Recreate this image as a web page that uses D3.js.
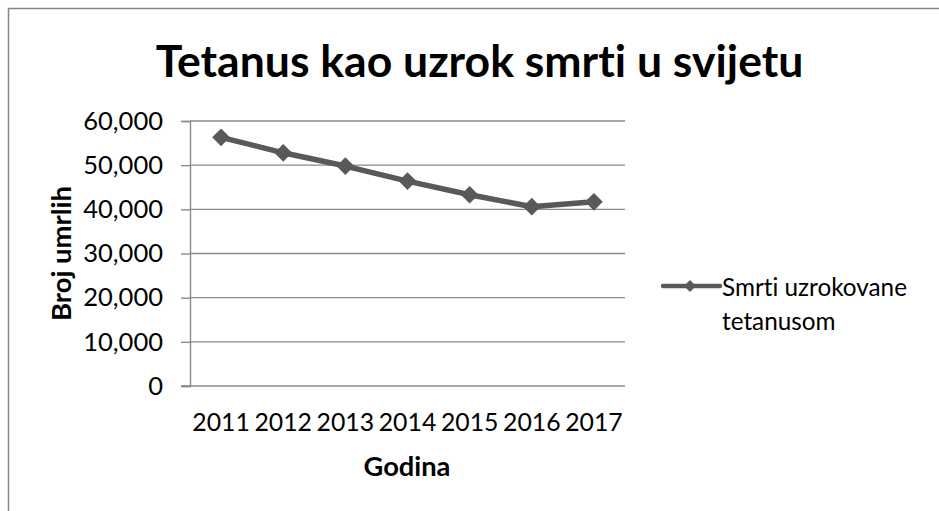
<!DOCTYPE html>
<html>
<head>
<meta charset="utf-8">
<script src="https://cdn.jsdelivr.net/npm/d3@7"></script>
<style>
  html, body { margin: 0; padding: 0; background: #fff; }
  svg { display: block; }
  text { font-family: Lato, "Open Sans", sans-serif; fill: #000; font-variant-ligatures: none; }
</style>
</head>
<body>
<svg id="chart" width="939" height="511"></svg>
<script>
const titleText = "Tetanus kao uzrok smrti u svijetu";
const years = ["2011", "2012", "2013", "2014", "2015", "2016", "2017"];
const deaths = [56300, 52800, 49800, 46400, 43300, 40600, 41700];
const yTicks = [0, 10000, 20000, 30000, 40000, 50000, 60000];
const seriesName = ["Smrti uzrokovane", "tetanusom"];
const xTitle = "Godina";
const yTitle = "Broj umrlih";

const W = 939, H = 511;
const plot = { left: 190, right: 625, top: 121, bottom: 386 };
const lineColor = "#595959";
const gridColor = "#8a8a8a";

const svg = d3.select("#chart");

svg.append("rect")
  .attr("x", 8.5).attr("y", 8.5)
  .attr("width", W + 20).attr("height", H + 20)
  .attr("fill", "#fff").attr("stroke", "#868686").attr("stroke-width", 1.5);

function fitWidth(sel, target) {
  const fs = parseFloat(sel.attr("font-size"));
  const w = sel.node().getComputedTextLength();
  sel.attr("font-size", fs * target / w);
}

const t = svg.append("text")
  .attr("x", 479.5).attr("y", 76.5)
  .attr("text-anchor", "middle")
  .attr("font-size", 44).attr("font-weight", "bold")
  .text(titleText);
fitWidth(t, 648);

const x = d3.scaleBand().domain(years).range([plot.left, plot.right]).padding(0);
const y = d3.scaleLinear().domain([0, 60000]).range([plot.bottom, plot.top]);

svg.append("g")
  .selectAll("line")
  .data(yTicks.filter(d => d > 0))
  .join("line")
  .attr("x1", plot.left).attr("x2", plot.right)
  .attr("y1", d => y(d)).attr("y2", d => y(d))
  .attr("stroke", gridColor).attr("stroke-width", 1.4);

const yAxis = svg.append("g")
  .attr("transform", `translate(${plot.left},0)`)
  .call(d3.axisLeft(y).tickValues(yTicks).tickSize(9).tickPadding(18)
    .tickFormat(d3.format(",")));
yAxis.select(".domain").attr("stroke", gridColor).attr("stroke-width", 1.4);
yAxis.selectAll(".tick line").attr("stroke", gridColor).attr("stroke-width", 1.4);
yAxis.selectAll(".tick text")
  .attr("font-size", 25.5).attr("font-family", "Lato, sans-serif").attr("fill", "#000");

const xAxis = svg.append("g")
  .attr("transform", `translate(0,${plot.bottom})`)
  .call(d3.axisBottom(x).tickSize(0).tickPadding(27));
xAxis.select(".domain").remove();
xAxis.selectAll(".tick text")
  .attr("font-size", 24.8).attr("font-family", "Lato, sans-serif").attr("fill", "#000");
svg.append("line")
  .attr("x1", plot.left - 9).attr("x2", plot.right)
  .attr("y1", plot.bottom).attr("y2", plot.bottom)
  .attr("stroke", gridColor).attr("stroke-width", 1.4);

const xt = svg.append("text")
  .attr("x", 407).attr("y", 476)
  .attr("text-anchor", "middle")
  .attr("font-size", 25).attr("font-weight", "bold")
  .text(xTitle);
fitWidth(xt, 87);

const yt = svg.append("text")
  .attr("transform", `translate(71,${(plot.top + plot.bottom) / 2}) rotate(-90)`)
  .attr("text-anchor", "middle")
  .attr("font-size", 25).attr("font-weight", "bold")
  .text(yTitle);
fitWidth(yt, 135);

const pts = years.map((yr, i) => [x(yr) + x.bandwidth() / 2, y(deaths[i])]);
svg.append("path")
  .attr("d", d3.line()(pts))
  .attr("fill", "none").attr("stroke", lineColor)
  .attr("stroke-width", 5.5).attr("stroke-linejoin", "round");

const diamond = d3.symbol().type(d3.symbolDiamond2);
svg.append("g").selectAll("path")
  .data(pts)
  .join("path")
  .attr("transform", d => `translate(${d[0]},${d[1]})`)
  .attr("d", diamond.size(200)())
  .attr("fill", lineColor);

const lg = svg.append("g");
lg.append("line")
  .attr("x1", 663).attr("x2", 720).attr("y1", 286).attr("y2", 286)
  .attr("stroke", lineColor).attr("stroke-width", 4.5).attr("stroke-linecap", "round");
lg.append("path")
  .attr("transform", "translate(690,286)")
  .attr("d", d3.symbol().type(d3.symbolDiamond2).size(90)())
  .attr("fill", lineColor);
lg.selectAll("text")
  .data(seriesName)
  .join("text")
  .attr("x", 722)
  .attr("y", (d, i) => 296 + i * 34)
  .attr("font-size", 24.3)
  .text(d => d);
</script>
</body>
</html>
